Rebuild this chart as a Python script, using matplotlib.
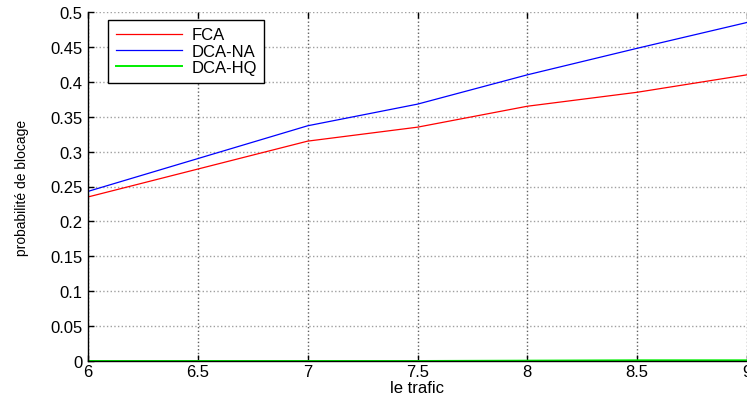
import matplotlib
matplotlib.use("Agg")
import matplotlib.pyplot as plt

plt.rcParams['font.family'] = ['Liberation Sans', 'DejaVu Sans']

# data
trafic = [6, 6.5, 7, 7.5, 8, 8.5, 9]
fca = [0.235, 0.275, 0.315, 0.335, 0.365, 0.385, 0.410]
dca_na = [0.243, 0.290, 0.337, 0.368, 0.410, 0.448, 0.485]
dca_hq = [0.0, 0.0, 0.0, 0.0, 0.0005, 0.001, 0.001]

x_ticks = [6, 6.5, 7, 7.5, 8, 8.5, 9]
x_tick_labels = ['6', '6.5', '7', '7.5', '8', '8.5', '9']
y_ticks = [0, 0.05, 0.1, 0.15, 0.2, 0.25, 0.3, 0.35, 0.4, 0.45, 0.5]
y_tick_labels = ['0', '0.05', '0.1', '0.15', '0.2', '0.25', '0.3', '0.35', '0.4', '0.45', '0.5']

W, H = 747, 402
fig = plt.figure(figsize=(W / 100, H / 100), dpi=100)
ax = fig.add_axes([88 / W, 1 - 362 / H, (W - 88) / W, (362 - 13) / H])

ax.plot(trafic, fca, color='#ff0000', lw=0.9, label='FCA')
ax.plot(trafic, dca_na, color='#0000ff', lw=0.9, label='DCA-NA')
ax.plot(trafic, dca_hq, color='#00ee00', lw=1.4, label='DCA-HQ')

ax.set_xlim(6, 9)
ax.set_ylim(0, 0.5)
ax.set_xticks(x_ticks)
ax.set_xticklabels(x_tick_labels)
ax.set_yticks(y_ticks)
ax.set_yticklabels(y_tick_labels)
ax.tick_params(direction='in', length=4, width=1, labelsize=12, pad=4,
               top=True, right=False)
ax.tick_params(axis='x', pad=2)

# matlab-ish dotted grid, vertical lines a bit darker
ax.xaxis.grid(True, linestyle=':', color='#606060', lw=1.0)
ax.yaxis.grid(True, linestyle=':', color='#a0a0a0', lw=1.0)
ax.set_axisbelow(True)

for side in ['top', 'right']:
    ax.spines[side].set_visible(False)
for side in ['left', 'bottom']:
    ax.spines[side].set_linewidth(1.0)
    ax.spines[side].set_color('black')

ax.set_xlabel('le trafic', fontsize=12, labelpad=1)
ax.set_ylabel('probabilité de blocage', fontsize=10)
ax.yaxis.set_label_coords(29 / W, 1 - 187.5 / H, transform=fig.transFigure)

leg = ax.legend(loc='upper left', bbox_to_anchor=(108 / W, 1 - 21 / H),
                bbox_transform=fig.transFigure, fancybox=False, framealpha=1,
                edgecolor='black', borderaxespad=0, handlelength=4.0,
                handletextpad=0.55, fontsize=12, labelspacing=0.08,
                borderpad=0.45)
leg.get_frame().set_linewidth(1.0)

fig.savefig('out.png', dpi=100)
